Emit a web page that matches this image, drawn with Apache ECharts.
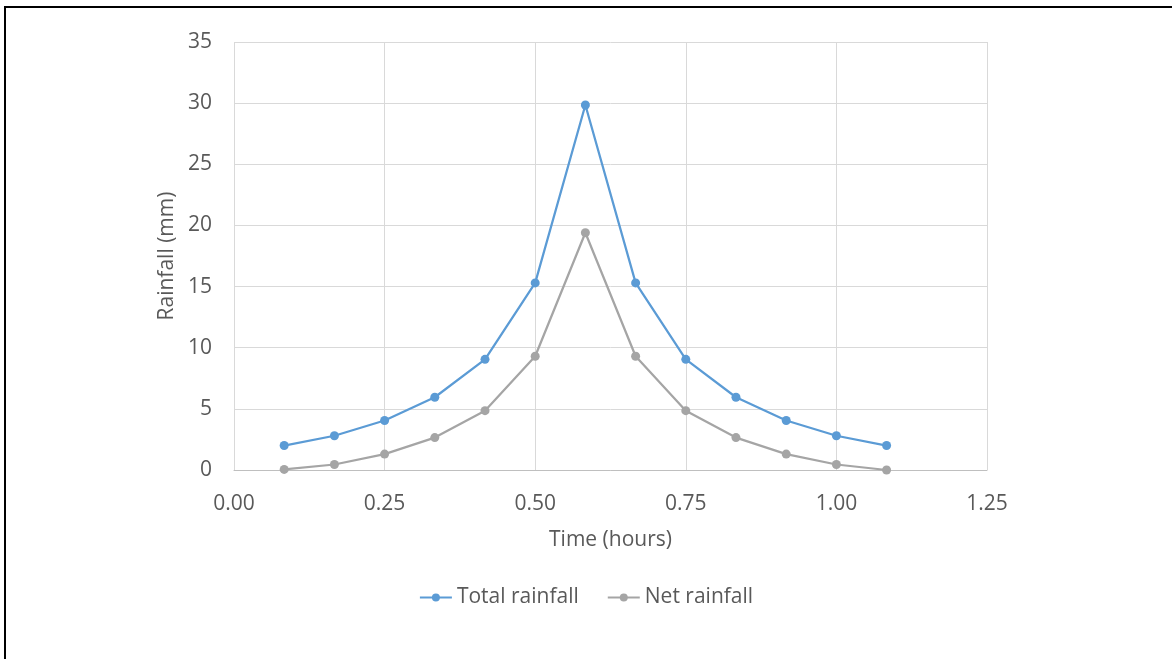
<!DOCTYPE html>
<html>
<head>
<meta charset="utf-8">
<script src="https://cdn.jsdelivr.net/npm/echarts@6/dist/echarts.min.js"></script>
<style>
  html, body { margin: 0; padding: 0; background: #fff; }
  #frame { position: absolute; left: 4px; top: 6px; width: 1200px; height: 700px; border-left: 2px solid #000; border-top: 2px solid #000; box-sizing: border-box; }
  #chart { position: absolute; left: 0; top: 0; width: 1172px; height: 659px; }
</style>
</head>
<body>
<div id="frame"></div>
<div id="chart"></div>
<script>
// Time steps (hours)
const timeHours = [0.0833, 0.1667, 0.25, 0.3333, 0.4167, 0.5, 0.5833, 0.6667, 0.75, 0.8333, 0.9167, 1.0, 1.0833];
// Rainfall per step (mm)
const totalRainfall = [2.0, 2.8, 4.05, 5.95, 9.05, 15.3, 29.85, 15.3, 9.05, 5.95, 4.05, 2.8, 2.0];
const netRainfall = [0.05, 0.45, 1.3, 2.65, 4.85, 9.3, 19.4, 9.3, 4.85, 2.65, 1.3, 0.45, 0.0];
const seriesNames = ['Total rainfall', 'Net rainfall'];

const pair = (xs, ys) => xs.map((x, i) => [x, ys[i]]);
const font = '"Open Sans", "Noto Sans", sans-serif';
const fs = 21;

const chart = echarts.init(document.getElementById('chart'), null, { renderer: 'canvas' });
chart.setOption({
  animation: false,
  backgroundColor: 'transparent',
  textStyle: { fontFamily: font },
  grid: { left: 234, right: 185, top: 42, bottom: 189, containLabel: false },
  legend: {
    top: 582,
    left: 'center',
    itemWidth: 32,
    itemHeight: 10,
    itemGap: 28,
    textStyle: { color: '#595959', fontSize: fs, fontFamily: font },
    data: seriesNames
  },
  xAxis: {
    type: 'value',
    min: 0, max: 1.25, interval: 0.25,
    name: 'Time (hours)',
    nameLocation: 'middle',
    nameGap: 60,
    nameTextStyle: { color: '#595959', fontSize: fs, fontFamily: font },
    axisLine: { show: true, lineStyle: { color: '#bfbfbf', width: 1 } },
    axisTick: { show: false },
    axisLabel: { color: '#595959', fontSize: fs, margin: 24, formatter: v => v.toFixed(2) },
    splitLine: { show: true, lineStyle: { color: '#d9d9d9', width: 1 } }
  },
  yAxis: {
    type: 'value',
    min: 0, max: 35, interval: 5,
    name: 'Rainfall (mm)',
    nameLocation: 'middle',
    nameGap: 56,
    nameTextStyle: { color: '#595959', fontSize: fs, fontFamily: font },
    axisLine: { show: false },
    axisTick: { show: false },
    axisLabel: { color: '#595959', fontSize: fs, margin: 22 },
    splitLine: { show: true, lineStyle: { color: '#d9d9d9', width: 1 } }
  },
  series: [
    {
      name: seriesNames[0], type: 'line',
      data: pair(timeHours, totalRainfall),
      symbol: 'circle', symbolSize: 9,
      lineStyle: { color: '#5b9bd5', width: 2.25 },
      itemStyle: { color: '#5b9bd5' },
      z: 3
    },
    {
      name: seriesNames[1], type: 'line',
      data: pair(timeHours, netRainfall),
      symbol: 'circle', symbolSize: 9,
      lineStyle: { color: '#a5a5a5', width: 2.25 },
      itemStyle: { color: '#a5a5a5' },
      z: 2
    }
  ]
});
</script>
</body>
</html>
